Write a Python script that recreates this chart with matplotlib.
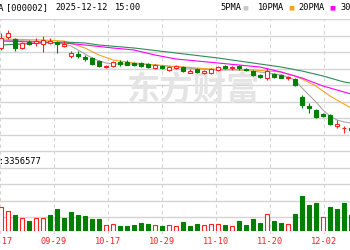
import matplotlib
matplotlib.use('Agg')
from matplotlib import pyplot as plt
import numpy as np

MONO = ['DejaVu Sans Mono', 'Noto Sans CJK SC']
plt.rcParams['font.family'] = MONO

# trading days, 09-17 .. 12-08 (chart is cut at both sides)
dates = ['09-17', '09-18', '09-19', '09-22', '09-23', '09-24', '09-25', '09-26',
         '09-29', '09-30', '10-09', '10-10', '10-13', '10-14', '10-15', '10-16',
         '10-17', '10-20', '10-21', '10-22', '10-23', '10-24', '10-27', '10-28',
         '10-29', '10-30', '10-31', '11-03', '11-04', '11-05', '11-06', '11-07',
         '11-10', '11-11', '11-12', '11-13', '11-14', '11-17', '11-18', '11-19',
         '11-20', '11-21', '11-24', '11-25', '11-26', '11-27', '11-28', '12-01',
         '12-02', '12-03', '12-04', '12-05', '12-08']
first_day = '09-19'
tick_dates = ['09-17', '09-29', '10-17', '10-29', '11-10', '11-20', '12-02']

opens = [6.72, 6.94, 6.90, 6.72, 6.84, 6.82, 6.80, 6.82, 6.84, 6.76,
         6.56, 6.60, 6.54, 6.52, 6.46, 6.34, 6.36, 6.44, 6.44, 6.42,
         6.42, 6.40, 6.32, 6.36, 6.28, 6.32, 6.34, 6.22, 6.30, 6.22,
         6.22, 6.28, 6.36, 6.32, 6.36, 6.30, 6.26, 6.18, 6.12, 6.20,
         6.18, 6.12, 6.10, 5.74, 5.56, 5.48, 5.40, 5.38, 5.17, 5.11, 5.12]
closes = [6.92, 7.02, 6.72, 6.82, 6.80, 6.86, 6.87, 6.86, 6.80, 6.79,
          6.62, 6.56, 6.50, 6.40, 6.36, 6.36, 6.44, 6.40, 6.39, 6.38,
          6.36, 6.34, 6.38, 6.32, 6.34, 6.36, 6.26, 6.25, 6.24, 6.26,
          6.30, 6.34, 6.32, 6.34, 6.32, 6.28, 6.18, 6.14, 6.26, 6.14,
          6.13, 6.14, 5.98, 5.58, 5.52, 5.34, 5.36, 5.20, 5.19, 5.13, 5.08]
highs = [7.02, 7.08, 6.92, 6.84, 6.88, 6.92, 6.96, 6.92, 6.86, 6.86,
         6.66, 6.66, 6.58, 6.54, 6.48, 6.38, 6.46, 6.48, 6.48, 6.44,
         6.44, 6.42, 6.40, 6.38, 6.36, 6.38, 6.36, 6.30, 6.32, 6.28,
         6.32, 6.36, 6.38, 6.36, 6.38, 6.32, 6.28, 6.20, 6.32, 6.22,
         6.20, 6.16, 6.12, 5.78, 5.62, 5.50, 5.42, 5.40, 5.28, 5.16, 5.16]
lows = [6.68, 6.90, 6.66, 6.70, 6.78, 6.76, 6.64, 6.80, 6.62, 6.74,
        6.52, 6.52, 6.46, 6.38, 6.34, 6.32, 6.34, 6.36, 6.38, 6.36,
        6.34, 6.32, 6.30, 6.30, 6.26, 6.30, 6.24, 6.22, 6.22, 6.20,
        6.20, 6.26, 6.30, 6.28, 6.28, 6.26, 6.16, 6.12, 6.08, 6.12,
        6.12, 6.08, 5.96, 5.52, 5.42, 5.32, 5.34, 5.18, 5.12, 5.02, 5.04]
# volume, 10k lots
volumes = [240, 200, 160, 130, 100, 130, 130, 160, 220, 130,
           190, 160, 150, 120, 120, 60, 70, 50, 50, 60,
           80, 70, 60, 50, 60, 50, 90, 50, 70, 60,
           70, 70, 60, 50, 100, 60, 120, 80, 170, 100,
           80, 70, 170, 350, 260, 280, 140, 240, 220, 280, 160]

# moving averages: (day offset from first_day, price)
ma5_days = [0, 4, 7, 9, 10, 11, 12, 13, 14, 15, 16, 19, 22, 25, 28, 31, 34, 36,
            38, 40, 41, 42, 43, 44, 45, 46, 47, 48, 49, 50]
ma5_vals = [6.88, 6.86, 6.84, 6.80, 6.76, 6.68, 6.60, 6.52, 6.46, 6.42, 6.40, 6.40,
            6.38, 6.34, 6.30, 6.28, 6.28, 6.26, 6.22, 6.18, 6.14, 6.08, 5.92, 5.78,
            5.64, 5.48, 5.36, 5.28, 5.24, 5.22]
ma10_days = [0, 6, 9, 12, 14, 16, 19, 24, 30, 36, 40, 42, 43, 45, 47, 49, 50]
ma10_vals = [6.90, 6.88, 6.86, 6.72, 6.58, 6.48, 6.42, 6.36, 6.30, 6.28, 6.24,
             6.16, 6.10, 5.96, 5.76, 5.60, 5.52]
ma20_days = [0, 5, 9, 12, 16, 19, 22, 25, 31, 37, 40, 43, 46, 49, 50]
ma20_vals = [6.86, 6.84, 6.82, 6.78, 6.72, 6.68, 6.58, 6.50, 6.42, 6.34, 6.24,
             6.12, 5.96, 5.84, 5.80]
ma30_days = [0, 3, 6, 9, 12, 14, 19, 25, 31, 37, 40, 43, 46, 49, 50]
ma30_vals = [6.78, 6.80, 6.82, 6.84, 6.82, 6.78, 6.72, 6.62, 6.52, 6.40, 6.34,
             6.26, 6.16, 6.04, 6.02]

RED = '#ff2020'
GREEN = '#008000'
C5, C10, C20, C30 = '#a8a8a8', '#f5a623', '#ff00ff', '#2e8b57'
GRID = '#d4d4d4'
FS = 6.2

W, H = 350.0, 250.0
fig = plt.figure(figsize=(3.5, 2.5), dpi=100)
bg = fig.add_axes([0, 1 - 233.5 / H, 1, (233.5 - 19) / H])
ax = fig.add_axes([0, 1 - 150 / H, 1, (150 - 19) / H])
vax = fig.add_axes([0, 1 - 231 / H, 1, (231 - 150) / H])

k0 = dates.index(first_day)
x = np.arange(k0, k0 + len(opens))
xc = dates.index('09-29')
xlim = (xc - 43 / 7.0, xc + (W - 43) / 7.0)

# grid
bg.set_xlim(*xlim)
bg.set_ylim(0, 13)
bg.set_yticks(np.arange(1, 14))
bg.set_xticks([dates.index(d) for d in tick_dates])
bg.set_xticklabels(tick_dates, color=RED, fontsize=FS)
bg.tick_params(length=0, pad=2.5, labelleft=False)
bg.grid(axis='y', color=GRID, lw=1.0)
bg.grid(axis='x', color=GRID, lw=0.8, ls=(0, (3, 3)))
for s in bg.spines.values():
    s.set_visible(False)

o = np.array(opens)
c = np.array(closes)
up = c >= o
edge = np.where(up, RED, GREEN)
face = np.where(up, 'white', GREEN)
# volume bars follow the change against the previous close
prev = np.concatenate([[o[0]], c[:-1]])
vup = c >= prev
vedge = np.where(vup, RED, GREEN)
vface = np.where(vup, 'white', GREEN)

ax.set_xlim(*xlim)
ax.set_ylim(4.68, 7.30)
ax.axis('off')
ax.patch.set_alpha(0)
ax.text(0.55, 0.45, '东方财富', transform=ax.transAxes, ha='center', va='center',
        fontsize=24, fontweight='bold', color='#e4e4e4', family='Noto Sans CJK SC', zorder=0)
ax.plot(np.array(ma5_days) + k0, ma5_vals, color=C5, lw=0.8, zorder=1)
ax.plot(np.array(ma10_days) + k0, ma10_vals, color=C10, lw=0.8, zorder=1)
ax.plot(np.array(ma20_days) + k0, ma20_vals, color=C20, lw=0.8, zorder=1)
ax.plot(np.array(ma30_days) + k0, ma30_vals, color=C30, lw=0.8, zorder=1)
ax.vlines(x, lows, highs, colors=edge, lw=0.8, zorder=2)
ax.bar(x, np.maximum(np.abs(c - o), 0.012), bottom=np.minimum(o, c), width=0.6,
       color=face, edgecolor=edge, lw=0.8, zorder=3)

vax.set_xlim(*xlim)
vax.set_ylim(0, 810)
vax.axis('off')
vax.patch.set_alpha(0)
vax.bar(x, volumes, width=0.62, color=vface, edgecolor=vedge, lw=0.8)

# header texts
ty = 1 - 8 / H
fig.text(4 / W, ty, '万科A', ha='right', va='center', fontsize=FS)
fig.text(6 / W, ty, '[000002]', ha='left', va='center', fontsize=FS)
fig.text(55 / W, ty, '2025-12-12', ha='left', va='center', fontsize=FS)
fig.text(115 / W, ty, '15:00', ha='left', va='center', fontsize=FS)
for lx, lab, mx, col in [(220, '5PMA', 242, '#c8c8c8'), (258, '10PMA', 288, C10),
                         (298, '20PMA', 329, C20), (340, '30PMA', 368, C30)]:
    fig.text(lx / W, ty, lab, ha='left', va='center', fontsize=FS)
    fig.text(mx / W, ty, '■', ha='left', va='center', fontsize=4.5, color=col,
             family='DejaVu Sans')
fig.text(42 / W, 1 - 161 / H, '成交量:3356577', ha='right', va='center', fontsize=FS)

fig.savefig('out.png', dpi=100)
